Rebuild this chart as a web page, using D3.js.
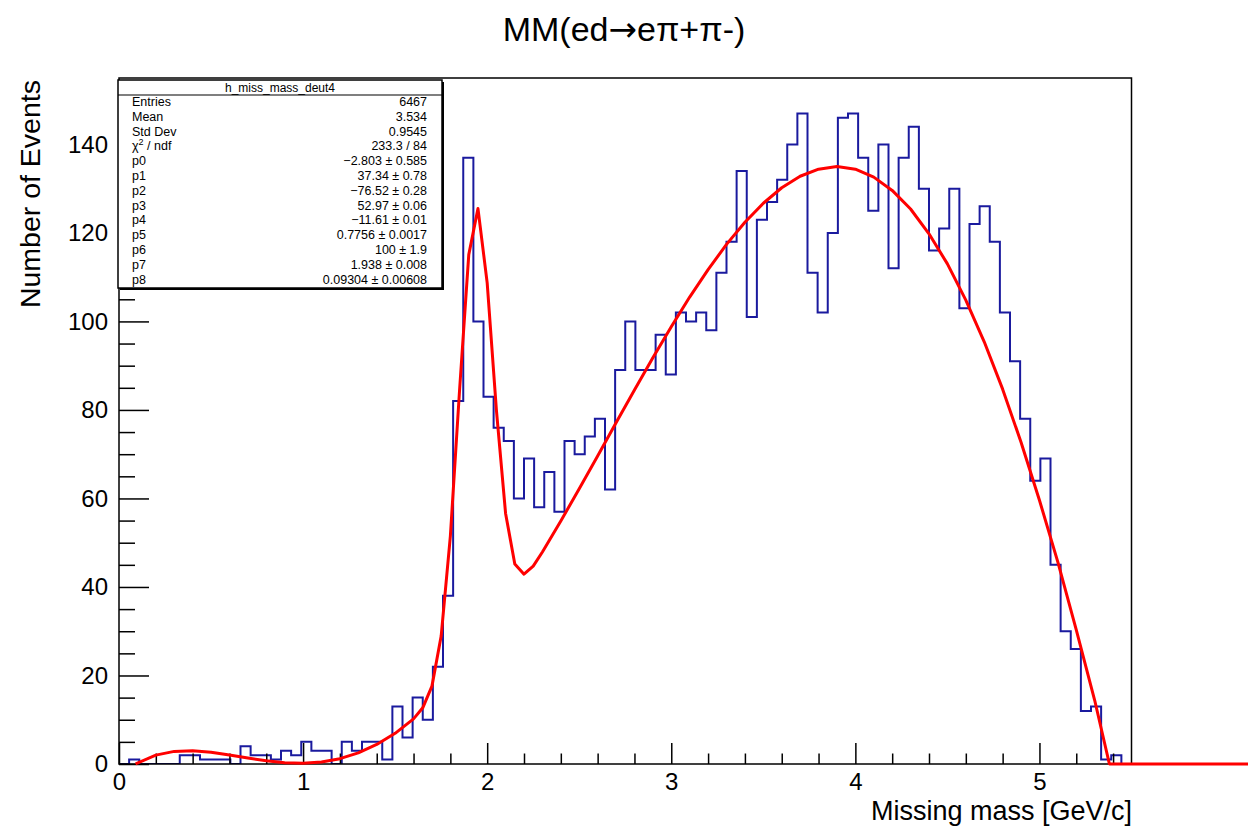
<!DOCTYPE html>
<html>
<head>
<meta charset="utf-8">
<script src="https://cdn.jsdelivr.net/npm/d3@7/dist/d3.min.js"></script>
<style>
  html, body { margin: 0; padding: 0; background: #fff; }
  svg { display: block; font-family: "Liberation Sans", Arial, Helvetica, sans-serif; }
</style>
</head>
<body>
<svg id="chart" width="1248" height="828"></svg>
<script>
// histogram: 100 bins between binLow and binHigh
const binLow = 0, binHigh = 5.5;
const counts = [
  0, 1, 0, 0, 0, 0, 2, 2, 1, 1,
  1, 0, 4, 2, 2, 1, 3, 2, 5, 3,
  3, 0, 5, 3, 5, 5, 1, 13, 6, 15,
  10, 22, 38, 82, 137, 100, 83, 76, 73, 60,
  69, 58, 66, 57, 73, 70, 74, 78, 62, 89,
  100, 89, 89, 97, 88, 102, 100, 102, 98, 111,
  118, 134, 101, 123, 127, 132, 140, 147, 111, 102,
  120, 146, 147, 137, 125, 140, 112, 137, 144, 130,
  116, 121, 130, 103, 122, 126, 118, 102, 91, 78,
  64, 69, 45, 30, 26, 12, 13, 1, 2, 0
];

// fitted curve
const fitX = [0.09, 0.1, 0.2, 0.3, 0.4, 0.5, 0.6, 0.7, 0.8, 0.9,
  1.0, 1.1, 1.2, 1.3, 1.4, 1.5, 1.6, 1.65, 1.7, 1.75,
  1.8, 1.85, 1.9, 1.95, 2.0, 2.05, 2.1, 2.15, 2.2, 2.25,
  2.3, 2.4, 2.5, 2.6, 2.7, 2.8, 2.9, 3.0, 3.1, 3.2,
  3.3, 3.4, 3.5, 3.6, 3.7, 3.8, 3.9, 4.0, 4.1, 4.2,
  4.3, 4.4, 4.5, 4.6, 4.7, 4.8, 4.9, 5.0, 5.1, 5.2,
  5.3, 5.38, 6.2];
const fitY = [0, 0.22, 2.01, 2.85, 2.99, 2.66, 2.05, 1.35, 0.72, 0.28,
  0.15, 0.44, 1.2, 2.52, 4.41, 6.93, 10.2, 12.7, 17.6, 28.9,
  51.5, 84.5, 115.1, 125.5, 108.7, 80.0, 56.6, 45.2, 42.9, 44.7,
  47.9, 54.9, 62.2, 69.6, 77.1, 84.5, 91.8, 98.8, 105.5, 111.7,
  117.4, 122.4, 126.7, 130.2, 132.8, 134.4, 135.0, 134.4, 132.6, 129.6,
  125.4, 119.8, 113.0, 104.8, 95.4, 84.7, 72.7, 59.6, 45.6, 30.3,
  14.4, 0, 0];

const yRange = [0, 155];
const xTickValues = [0, 1, 2, 3, 4, 5];
const yTickValues = [0, 20, 40, 60, 80, 100, 120, 140];

const statsTitle = "h_miss_mass_deut4";
const statLabels = ["Entries", "Mean", "Std Dev", "chi2", "p0", "p1", "p2", "p3", "p4", "p5", "p6", "p7", "p8"];
const statValues = ["6467", "3.534", "0.9545", "233.3 / 84",
  "\u22122.803 \u00b1 0.585", "37.34 \u00b1 0.78", "\u221276.52 \u00b1 0.28",
  "52.97 \u00b1 0.06", "\u221211.61 \u00b1 0.01", "0.7756 \u00b1 0.0017",
  "100 \u00b1 1.9", "1.938 \u00b1 0.008", "0.09304 \u00b1 0.00608"];

const svg = d3.select("#chart");
const frameL = 119, frameR = 1131.5, frameT = 78, frameB = 764;

const x = d3.scaleLinear().domain([binLow, binHigh]).range([frameL, frameR]);
const y = d3.scaleLinear().domain(yRange).range([frameB, frameT]);

// title
const title = svg.append("text")
  .attr("x", 624).attr("y", 41)
  .attr("text-anchor", "middle")
  .style("font-size", "34px");
title.append("tspan").text("MM(ed");
title.append("tspan").style("font-family", "'DejaVu Sans'").text("\u2192");
title.append("tspan").text("e\u03c0+\u03c0-)");

// histogram outline
const nb = counts.length;
const step = (binHigh - binLow) / nb;
const pts = counts.map((c, i) => [binLow + i * step, c]);
pts.push([binHigh, counts[nb - 1]]);

svg.append("clipPath").attr("id", "frameclip")
  .append("rect").attr("x", frameL).attr("y", frameT)
  .attr("width", frameR - frameL).attr("height", frameB - frameT);

svg.append("path")
  .datum(pts)
  .attr("clip-path", "url(#frameclip)")
  .attr("fill", "none")
  .attr("stroke", "#1a1a9e")
  .attr("stroke-width", 2)
  .attr("d", d3.line().x(d => x(d[0])).y(d => y(d[1])).curve(d3.curveStepAfter));

// axes (ROOT style: ticks pointing inward)
const xMinor = d3.range(0, 5.5001, 0.2).filter(v => Math.abs(v - Math.round(v)) > 1e-6);
const yMinor = d3.range(0, 155, 5).filter(v => v % 20 !== 0);

function styleAxis(g) {
  g.select(".domain").remove();
  g.selectAll(".tick line").attr("stroke", "#000").attr("stroke-width", 1.5);
  g.selectAll(".tick text").style("font-size", "24px").attr("fill", "#000");
}

svg.append("g").attr("transform", `translate(0,${frameB})`)
  .call(d3.axisBottom(x).tickValues(xMinor).tickSize(-10.5).tickFormat(""))
  .call(styleAxis);
svg.append("g").attr("transform", `translate(0,${frameB})`)
  .call(d3.axisBottom(x).tickValues(xTickValues).tickSize(-21).tickPadding(9).tickFormat(d3.format("d")))
  .call(styleAxis);
svg.append("g").attr("transform", `translate(${frameL},0)`)
  .call(d3.axisLeft(y).tickValues(yMinor).tickSize(-16).tickFormat(""))
  .call(styleAxis);
svg.append("g").attr("transform", `translate(${frameL},0)`)
  .call(d3.axisLeft(y).tickValues(yTickValues).tickSize(-30).tickPadding(11).tickFormat(d3.format("d")))
  .call(styleAxis);

// frame
svg.append("rect")
  .attr("x", frameL).attr("y", frameT)
  .attr("width", frameR - frameL).attr("height", frameB - frameT)
  .attr("fill", "none").attr("stroke", "#000").attr("stroke-width", 1.5);

// fit function
svg.append("path")
  .datum(fitX.map((v, i) => [v, fitY[i]]))
  .attr("fill", "none")
  .attr("stroke", "#ff0000")
  .attr("stroke-width", 3)
  .attr("stroke-linejoin", "round")
  .attr("d", d3.line().x(d => x(d[0])).y(d => y(Math.max(0, d[1]))));

// axis titles
svg.append("text")
  .attr("transform", "translate(40,80) rotate(-90)")
  .attr("text-anchor", "end")
  .style("font-size", "28.5px")
  .text("Number of Events");

svg.append("text")
  .attr("x", 1132).attr("y", 820)
  .attr("text-anchor", "end")
  .style("font-size", "27px")
  .text("Missing mass [GeV/c]");

// stats box
const bx = 118, by = 80, bw = 324, bh = 208;
svg.append("rect").attr("x", bx + 2).attr("y", by + 2).attr("width", bw).attr("height", bh).attr("fill", "#000");
svg.append("rect").attr("x", bx).attr("y", by).attr("width", bw).attr("height", bh)
  .attr("fill", "#fff").attr("stroke", "#000").attr("stroke-width", 1.5);
svg.append("line").attr("x1", bx).attr("x2", bx + bw).attr("y1", 95).attr("y2", 95)
  .attr("stroke", "#000").attr("stroke-width", 1.2);
svg.append("text").attr("x", bx + bw / 2).attr("y", 92)
  .attr("text-anchor", "middle").style("font-size", "12px").text(statsTitle);

const rows = svg.append("g").style("font-size", "12.5px");
statLabels.forEach((lab, i) => {
  const ty = 106 + i * 14.8;
  const t = rows.append("text").attr("x", 132).attr("y", ty);
  if (lab === "chi2") {
    t.append("tspan").text("\u03c7");
    t.append("tspan").attr("dy", -5).style("font-size", "9px").text("2");
    t.append("tspan").attr("dy", 5).text(" / ndf");
  } else {
    t.text(lab);
  }
  rows.append("text").attr("x", 427).attr("y", ty)
    .attr("text-anchor", "end").text(statValues[i]);
});
</script>
</body>
</html>
